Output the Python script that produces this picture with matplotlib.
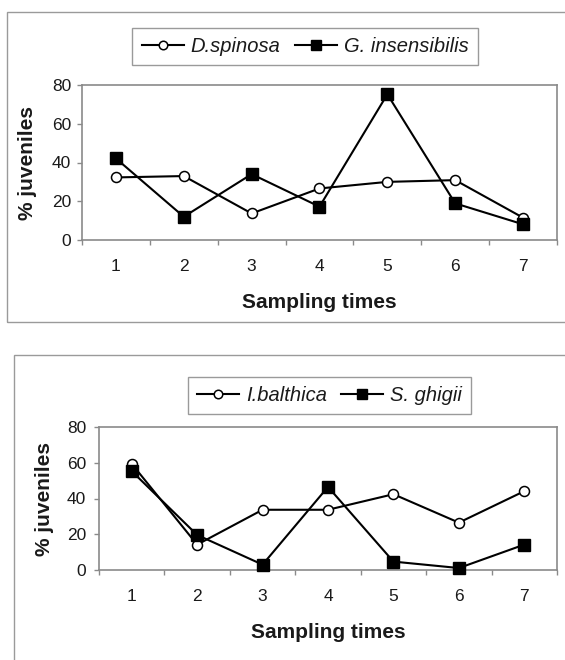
import numpy as np
import matplotlib
matplotlib.use("Agg")
import matplotlib.pyplot as plt
from matplotlib.patches import Rectangle

plt.rcParams['font.family'] = ['Liberation Sans', 'DejaVu Sans']

# ---- data ----
times = [1, 2, 3, 4, 5, 6, 7]
tick_labels = ['1', '2', '3', '4', '5', '6', '7']
d_spinosa = [32.3, 33.0, 13.7, 26.6, 30.0, 30.9, 11.5]
g_insensibilis = [42.1, 12.0, 34.0, 17.2, 75.2, 18.9, 8.1]
i_balthica = [59.4, 14.2, 33.7, 33.7, 42.4, 26.5, 44.1]
s_ghigii = [55.3, 19.6, 3.0, 46.5, 4.7, 1.1, 14.2]
yticks = [0, 20, 40, 60, 80]

W, H = 565, 660
fig = plt.figure(figsize=(W / 100, H / 100), dpi=100)

def px(x0, y0, x1, y1):
    return [x0 / W, 1 - y1 / H, (x1 - x0) / W, (y1 - y0) / H]

FRAME = '#8a8a8a'
TXT = '#1a1a1a'

# outer boxes
fig.patches.append(Rectangle((7 / W, 1 - 322 / H), 1.05, (322 - 12) / H,
                             transform=fig.transFigure, fill=False,
                             edgecolor='#9a9a9a', linewidth=1.0))
fig.patches.append(Rectangle((14 / W, -0.05), 1.05, 1 - 355 / H + 0.05,
                             transform=fig.transFigure, fill=False,
                             edgecolor='#9a9a9a', linewidth=1.0))

def panel(rect, s1, s2, n1, n2, leg_center, ypad, xlab_y, ylab_x):
    ax = fig.add_axes(rect)
    ax.plot(times, s1, '-', color='black', lw=1.5, marker='o', ms=7.2,
            mfc='white', mec='black', mew=1.1, label=n1, clip_on=False, zorder=3)
    ax.plot(times, s2, '-', color='black', lw=1.5, marker='s', ms=8.2,
            mfc='black', mec='black', label=n2, clip_on=False, zorder=4)
    ax.set_xlim(0.5, 7.5)
    ax.set_ylim(0, 80)
    ax.set_yticks(yticks)
    ax.set_xticks(times)
    ax.set_xticklabels(tick_labels)
    ax.set_xticks(np.arange(0.5, 8.0, 1.0), minor=True)
    ax.tick_params(axis='x', which='major', length=0, pad=14.0,
                   labelsize=12.5, labelcolor=TXT)
    ax.tick_params(axis='x', which='minor', length=3.6, direction='out',
                   color=FRAME, width=1.0)
    ax.tick_params(axis='y', which='major', length=3.3, direction='out',
                   color=FRAME, width=1.0, pad=ypad, labelsize=12.5,
                   labelcolor=TXT)
    for sp in ax.spines.values():
        sp.set_color(FRAME)
        sp.set_linewidth(1.2)
    ax.set_xlabel('Sampling times', fontsize=15, fontweight='bold', color=TXT)
    ax.xaxis.set_label_coords(0.5, xlab_y)
    ax.set_ylabel('% juveniles', fontsize=15, fontweight='bold', color=TXT)
    ax.yaxis.set_label_coords(ylab_x, 0.5)
    leg = ax.legend(loc='center', bbox_to_anchor=leg_center,
                    bbox_transform=fig.transFigure, ncol=2,
                    prop={'style': 'italic', 'size': 14.5},
                    frameon=True, fancybox=False, shadow=False,
                    handlelength=2.1, handletextpad=0.34,
                    columnspacing=0.7, borderpad=0.45, markerscale=0.85,
                    borderaxespad=0)
    fr = leg.get_frame()
    fr.set_edgecolor('#9a9a9a')
    fr.set_linewidth(1.0)
    fr.set_alpha(1)
    for t in leg.get_texts():
        t.set_color(TXT)
    return ax

panel(px(82, 85, 557, 240), d_spinosa, g_insensibilis,
      'D.spinosa', 'G. insensibilis',
      (305 / W, 1 - 46.5 / H), 4.5, -0.342, -0.095)
panel(px(99, 427, 557, 570), i_balthica, s_ghigii,
      'I.balthica', 'S. ghigii',
      (329.5 / W, 1 - 395.5 / H), 5.8, -0.373, -0.098)

fig.savefig('out.png', dpi=100)
